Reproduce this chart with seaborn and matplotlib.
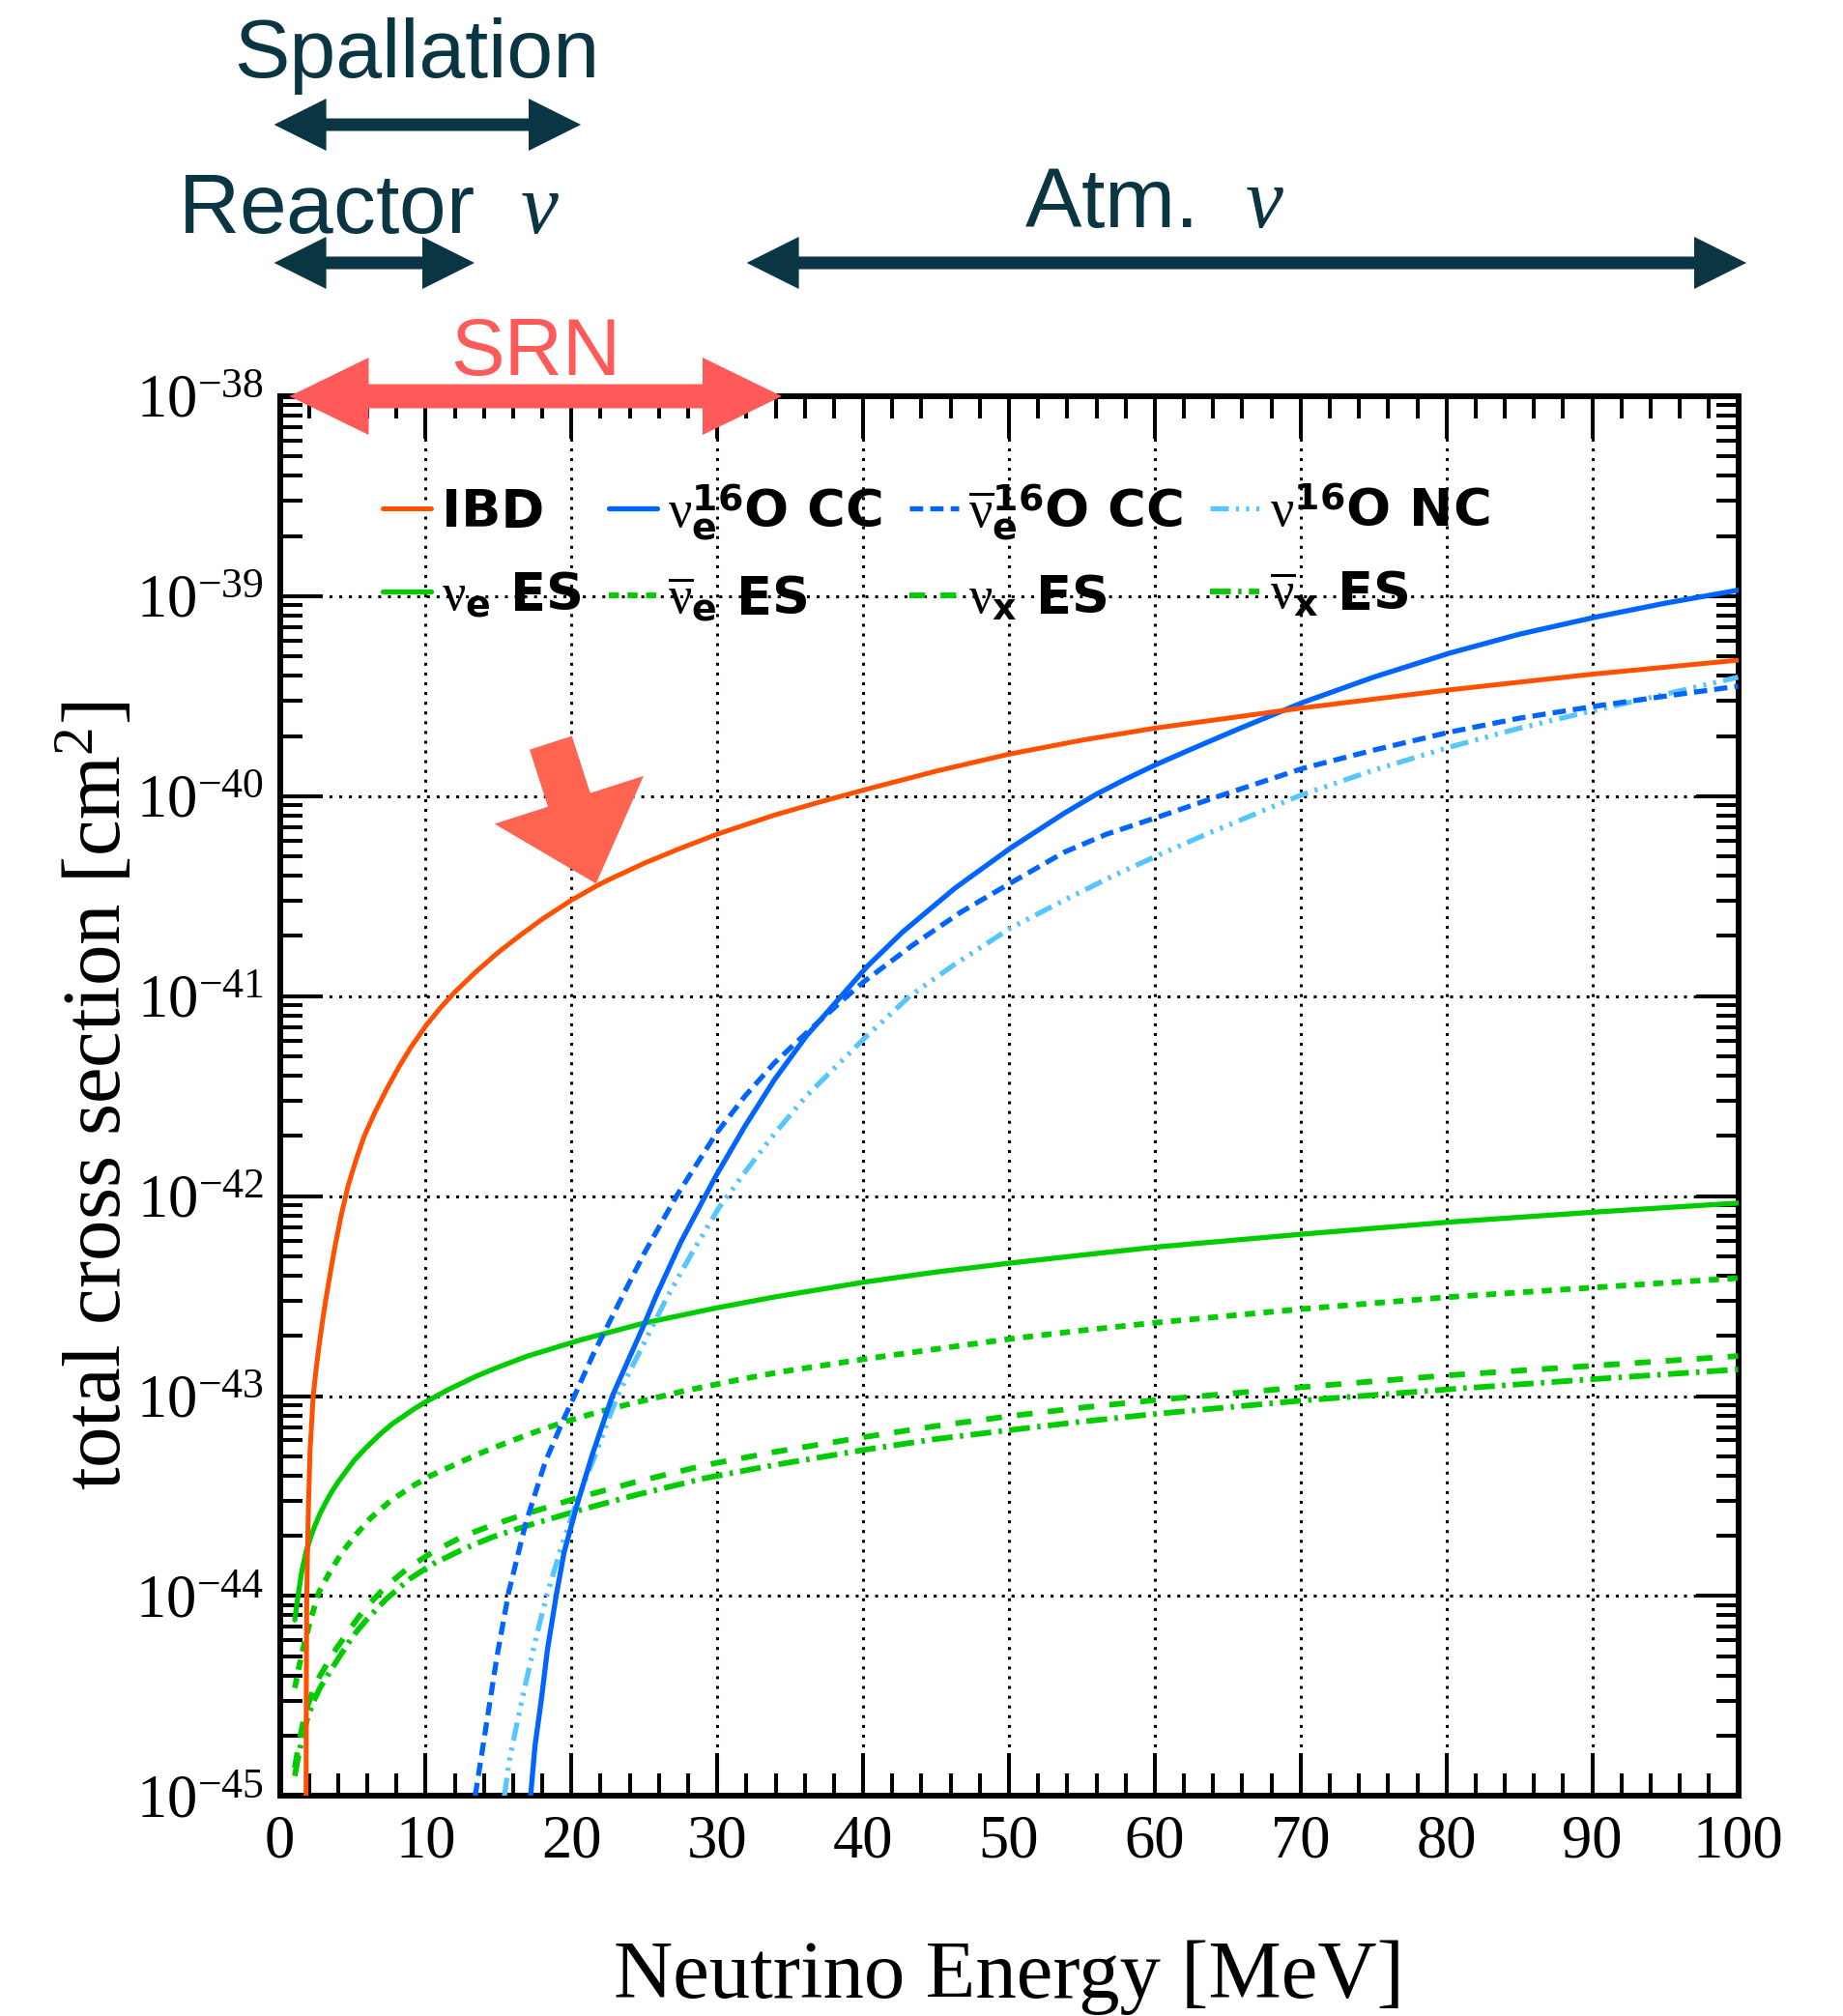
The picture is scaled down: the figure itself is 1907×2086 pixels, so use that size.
import numpy as np
import matplotlib
matplotlib.use('Agg')
import matplotlib.pyplot as plt
import seaborn as sns
from matplotlib.patches import Polygon
from matplotlib.ticker import MultipleLocator, LogLocator, NullFormatter

W, H, DPI = 1907, 2086, 100

# values: neutrino energy [MeV] and log10(cross section / cm^2)
ibd_E = [1.80, 1.82, 1.85, 1.95, 2.07, 2.29, 2.5, 2.69, 2.9, 3.15, 3.45, 3.79, 4.2, 4.68, 5.2,
         5.79, 6.5, 7.33, 8.2, 9.0, 10.0, 11.0, 12.0, 13.5, 15.0, 16.5, 18.0, 20.0, 21.7, 22.5,
         25.0, 27.5, 30.0, 33.9, 37.0, 40.0, 45.0, 50.0, 55.0, 60.0, 65.0, 70.0, 80.0, 90.0, 100.0]
ibd_log = [-45.0, -44.45, -44.0, -43.6, -43.28, -43.0, -42.86, -42.75, -42.64, -42.52, -42.39,
           -42.25, -42.10, -41.95, -41.825, -41.70, -41.585, -41.465, -41.35, -41.255, -41.15,
           -41.06, -40.98, -40.875, -40.78, -40.695, -40.615, -40.52, -40.45, -40.42, -40.335,
           -40.26, -40.19, -40.095, -40.03, -39.97, -39.875, -39.79, -39.72, -39.66, -39.61,
           -39.56, -39.47, -39.39, -39.32]

cc_E = [17.2, 17.5, 17.95, 18.35, 18.95, 19.5, 20.4, 21.4, 22.8, 23.9, 25.0, 25.8, 27.5, 29.9,
        31.9, 33.9, 36.1, 38.5, 40.3, 42.7, 46.3, 50.1, 53.8, 56.0, 58.0, 60.0, 62.5, 65.7, 70.2,
        75.0, 80.2, 85.0, 90.2, 95.0, 100.0]
cc_log = [-45.0, -44.75, -44.51, -44.27, -44.0, -43.78, -43.54, -43.30, -43.0, -42.82, -42.64,
          -42.50, -42.23, -41.90, -41.65, -41.42, -41.20, -41.0, -40.85, -40.68, -40.46, -40.26,
          -40.085, -39.99, -39.915, -39.845, -39.765, -39.665, -39.53, -39.405, -39.285, -39.19,
          -39.105, -39.035, -38.97]

acc_E = [13.4, 14.0, 14.9, 15.7, 16.85, 18.2, 19.5, 20.2, 21.5, 23.5, 25.0, 27.2, 29.9, 31.9, 33.9,
         36.1, 38.75, 40.1, 43.4, 46.7, 50.1, 53.8, 56.7, 60.4, 64.4, 70.2, 75.0, 80.2, 85.0,
         90.2, 95.0, 100.0]
acc_log = [-45.0, -44.72, -44.30, -43.98, -43.64, -43.33, -43.11, -43.0, -42.79, -42.50, -42.285,
           -42.0, -41.69, -41.50, -41.335, -41.185, -41.01, -40.925, -40.745, -40.58, -40.435,
           -40.28, -40.19, -40.10, -40.0, -39.86, -39.77, -39.68, -39.61, -39.55, -39.50, -39.45]

nc_E = [15.4, 15.75, 16.2, 16.85, 17.6, 18.3, 19.2, 20.3, 21.6, 23.15, 24.6, 26.6, 28.3, 30.1, 31.9,
        33.9, 36.1, 40.1, 43.2, 46.3, 50.1, 53.8, 57.1, 60.1, 63.7, 65.7, 68.0, 70.2, 75.0, 80.2,
        85.0, 90.2, 95.0, 100.0]
nc_log = [-45.0, -44.82, -44.66, -44.44, -44.2, -44.0, -43.78, -43.54, -43.30, -43.0, -42.79, -42.50,
          -42.28, -42.06, -41.88, -41.69, -41.50, -41.21, -41.0, -40.84, -40.66, -40.52, -40.40,
          -40.30, -40.185, -40.125, -40.055, -39.99, -39.87, -39.755, -39.66, -39.57, -39.49, -39.405]

es_e_E = [1.03, 1.25, 1.5, 1.8, 2.1, 2.4, 2.75, 3.13, 3.55, 4.0, 4.5, 5.12, 5.9, 6.89, 7.7, 8.5, 9.2,
          10.0, 11.5, 13.5, 15.0, 17.0, 20.6, 25.0, 29.9, 33.9, 40.1, 45.0, 50.1, 55.0, 60.1, 70.2,
          80.2, 90.2, 100.0]
es_e_log = [-44.12, -44.0, -43.88, -43.78, -43.71, -43.65, -43.59, -43.535, -43.48, -43.43, -43.38,
            -43.32, -43.26, -43.19, -43.14, -43.10, -43.065, -43.03, -42.97, -42.90, -42.855, -42.80,
            -42.72, -42.635, -42.56, -42.505, -42.43, -42.38, -42.335, -42.295, -42.255, -42.19,
            -42.13, -42.08, -42.035]

es_ebar_E = [1.03, 1.3, 1.58, 2.1, 2.69, 3.4, 4.24, 5.2, 6.23, 7.5, 8.88, 10.3, 11.8, 13.6, 15.5,
             17.5, 19.5, 21.6, 23.7, 27.7, 31.7, 34.3, 40.1, 45.0, 50.1, 55.0, 60.1, 70.2, 80.2,
             90.2, 100.0]
es_ebar_log = [-44.46, -44.36, -44.27, -44.12, -43.98, -43.885, -43.785, -43.695, -43.61, -43.53,
               -43.46, -43.40, -43.35, -43.29, -43.235, -43.18, -43.13, -43.085, -43.045, -42.975,
               -42.915, -42.88, -42.815, -42.765, -42.714, -42.672, -42.633, -42.564, -42.505,
               -42.457, -42.41]

es_x_E = [1.03, 1.3, 1.58, 1.9, 2.3, 2.75, 3.24, 3.9, 4.68, 5.3, 6.01, 7.3, 8.88, 10.5, 12.6, 14.6,
          16.85, 20.6, 24.4, 29.2, 33.9, 40.1, 45.0, 50.1, 55.0, 60.1, 70.2, 80.2, 90.2, 100.0]
es_x_log = [-44.86, -44.74, -44.64, -44.55, -44.47, -44.40, -44.34, -44.26, -44.18, -44.115, -44.05,
            -43.95, -43.855, -43.78, -43.70, -43.645, -43.59, -43.505, -43.43, -43.345, -43.28,
            -43.205, -43.15, -43.10, -43.058, -43.02, -42.955, -42.896, -42.848, -42.80]

es_xbar_E = [1.03, 1.3, 1.58, 1.9, 2.3, 2.75, 3.3, 3.9, 4.7, 5.3, 6.0, 7.3, 8.9, 10.5, 12.6, 14.6,
             16.9, 20.6, 24.4, 29.2, 33.9, 40.1, 45.0, 50.1, 55.0, 60.1, 70.2, 80.2, 90.2, 100.0]
es_xbar_log = [-44.90, -44.79, -44.70, -44.61, -44.53, -44.46, -44.395, -44.325, -44.235, -44.175,
               -44.115, -44.015, -43.915, -43.84, -43.765, -43.705, -43.65, -43.57, -43.495, -43.41,
               -43.345, -43.269, -43.215, -43.17, -43.128, -43.089, -43.022, -42.966, -42.915,
               -42.867]

labels = {
    'ibd': 'IBD',
    'cc': r'$\mathrm{\nu}_{\mathbf{e}}^{\mathbf{16}}$O CC',
    'acc': r'$\overline{\mathrm{\nu}}_{\mathbf{e}}^{\mathbf{16}}$O CC',
    'nc': r'$\mathrm{\nu}^{\mathbf{16}}$O NC',
    'es_e': r'$\mathrm{\nu}_{\mathbf{e}}$ ES',
    'es_ebar': r'$\overline{\mathrm{\nu}}_{\mathbf{e}}$ ES',
    'es_x': r'$\mathrm{\nu}_{\mathbf{x}}$ ES',
    'es_xbar': r'$\overline{\mathrm{\nu}}_{\mathbf{x}}$ ES',
}

sns.set_theme(style='white')
plt.rcParams['font.family'] = ['Liberation Serif', 'DejaVu Sans']
plt.rcParams['mathtext.fontset'] = 'custom'
plt.rcParams['mathtext.rm'] = 'Liberation Serif'
plt.rcParams['mathtext.it'] = 'Liberation Serif:italic'
plt.rcParams['mathtext.bf'] = 'DejaVu Sans:bold'
plt.rcParams['text.color'] = 'black'
plt.rcParams['axes.labelcolor'] = 'black'
plt.rcParams['xtick.color'] = 'black'
plt.rcParams['ytick.color'] = 'black'

GREEN = '#00cc00'
series = [
    # key, E, log10 sigma, colour, linestyle, width
    ('es_xbar', es_xbar_E, es_xbar_log, GREEN, (0, (3.7, 1.3, 0.6, 1.3)), 4.2),
    ('es_x', es_x_E, es_x_log, GREEN, (0, (2.8, 2.7)), 4.2),
    ('es_ebar', es_ebar_E, es_ebar_log, GREEN, (0, (1.8, 1.5)), 4.2),
    ('es_e', es_e_E, es_e_log, GREEN, '-', 3.8),
    ('nc', nc_E, nc_log, '#55c6ff', (0, (3.6, 1.4, 0.6, 1.4, 0.6, 1.4, 0.6, 1.4)), 3.8),
    ('acc', acc_E, acc_log, '#0064ff', (0, (2.6, 1.4)), 3.8),
    ('cc', cc_E, cc_log, '#0064ff', '-', 3.8),
    ('ibd', ibd_E, ibd_log, '#ff5000', '-', 3.6),
]

fig = plt.figure(figsize=(W / DPI, H / DPI), dpi=DPI)
ax = fig.add_axes([289.5 / W, 1 - 1858.3 / H, 1509 / W, 1448.3 / H])

handles = {}
for key, e, lg, color, style, lw in series:
    sns.lineplot(x=e, y=10 ** np.array(lg), ax=ax, color=color, linestyle=style,
                 linewidth=lw, estimator=None, zorder=3)
    handles[key] = ax.lines[-1]

ax.set_yscale('log')
ax.set_xlim(0, 100)
ax.set_ylim(1e-45, 1e-38)

ax.xaxis.set_major_locator(MultipleLocator(10))
ax.xaxis.set_minor_locator(MultipleLocator(2))
ax.yaxis.set_major_locator(LogLocator(base=10, numticks=20))
ax.yaxis.set_minor_locator(LogLocator(base=10, subs=np.arange(2, 10), numticks=20))
ax.yaxis.set_minor_formatter(NullFormatter())
ax.tick_params(which='both', direction='in', top=True, right=True, bottom=True, left=True,
               width=2.9, colors='black')
ax.tick_params(which='major', length=32, labelsize=45)
ax.tick_params(which='minor', length=16.5)
ax.tick_params(axis='x', which='major', pad=13.5)
ax.tick_params(axis='y', which='major', pad=12)
for s in ax.spines.values():
    s.set_color('black')
    s.set_linewidth(4.3)
ax.grid(True, which='major', color='black', linestyle=(0, (1, 2.3)), linewidth=2.2)

ax.set_xlabel('Neutrino Energy [MeV]', fontsize=61)
ax.set_ylabel(r'total cross section [cm$^{2}$]', fontsize=61)
ax.xaxis.set_label_coords(0.5, -0.1027)
ax.yaxis.set_label_coords(-0.097, 0.5)

# matplotlib fills legend columns first, so interleave to get the two rows of the picture
order = ['ibd', 'es_e', 'cc', 'es_ebar', 'acc', 'es_x', 'nc', 'es_xbar']
ax.legend([handles[k] for k in order], [labels[k] for k in order], ncol=4, loc='upper left',
          bbox_to_anchor=(0.0706, 0.939), frameon=False, borderpad=0, borderaxespad=0,
          prop=dict(family='DejaVu Sans', weight='bold', size=39), handlelength=0.93,
          handletextpad=0.2, columnspacing=0.52, labelspacing=0.62)


def fxy(x, y):
    return (x / W, 1 - y / H)


def double_arrow(x0, x1, y, shaft, head_w, head_len, color):
    s, h = shaft / 2, head_w / 2
    pts = [(x0, y), (x0 + head_len, y - h), (x0 + head_len, y - s), (x1 - head_len, y - s),
           (x1 - head_len, y - h), (x1, y), (x1 - head_len, y + h), (x1 - head_len, y + s),
           (x0 + head_len, y + s), (x0 + head_len, y + h)]
    fig.add_artist(Polygon([fxy(*p) for p in pts], closed=True, transform=fig.transFigure,
                           facecolor=color, edgecolor='none', zorder=5))


DARK = '#0a3644'
fig.text(*fxy(431.5, 80), 'Spallation', family='Liberation Sans', fontsize=62, color=DARK,
         ha='center', va='baseline')
double_arrow(283.6, 601, 129, 13, 54, 54, DARK)
fig.text(*fxy(382, 241), r'Reactor  $\nu$', family='Liberation Sans', fontsize=63, color=DARK,
         ha='center', va='baseline')
double_arrow(283.6, 491, 272, 13, 54, 54, DARK)
fig.text(*fxy(1195, 235), r'Atm.  $\nu$', family='Liberation Sans', fontsize=63, color=DARK,
         ha='center', va='baseline')
double_arrow(772.6, 1807, 272, 13, 54, 54, DARK)
fig.text(*fxy(554.5, 388), 'SRN', family='Liberation Sans', fontsize=60, color='#ff5a5a',
         ha='center', va='baseline')
double_arrow(299.5, 809, 410, 25, 80, 82, '#ff5a5a')

# block arrow pointing at the IBD curve
tip = np.array([616.7, 914.3])
u = np.array([0.306, 0.952])
p = np.array([-0.952, 0.306])
base = tip - 91 * u
tail = base - 62 * u
pts = [tip, base + 81 * p, base + 23 * p, tail + 23 * p, tail - 23 * p, base - 23 * p, base - 81 * p]
fig.add_artist(Polygon([fxy(*q) for q in pts], closed=True, transform=fig.transFigure,
                       facecolor='#ff6450', edgecolor='none', zorder=5))

fig.savefig('out.png', dpi=DPI)
